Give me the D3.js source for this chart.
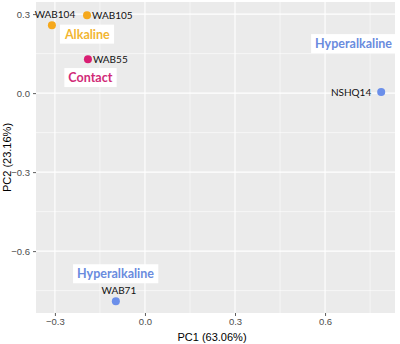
<!DOCTYPE html>
<html><head><meta charset="utf-8">
<script src="https://cdn.jsdelivr.net/npm/d3@7/dist/d3.min.js"></script>
<style>body{margin:0;background:#fff}svg{display:block}</style>
</head><body>
<script>
// Data
const samples = ["WAB104", "WAB105", "WAB55", "NSHQ14", "WAB71"];
const pc1 = [-0.31, -0.193, -0.19, 0.787, -0.097];
const pc2 = [0.258, 0.296, 0.129, 0.004, -0.79];
const groups = ["Alkaline", "Alkaline", "Contact", "Hyperalkaline", "Hyperalkaline"];
// sample label anchor side
const labelSide = ["above", "right", "right", "left", "above"];
// group annotation labels (data coordinates)
const annText = ["Alkaline", "Contact", "Hyperalkaline", "Hyperalkaline"];
const annX = [-0.192, -0.182, 0.695, -0.098];
const annY = [0.224, 0.059, 0.188, -0.686];
const xTicks = [-0.3, 0.0, 0.3, 0.6];
const yTicks = [0.3, 0.0, -0.3, -0.6];
const groupNames = ["Alkaline", "Contact", "Hyperalkaline"];
const pointColors = ["#F5A81C", "#D91E73", "#6B8FEA"];
const textColors = ["#F2B531", "#D12A78", "#6A8BDE"];

const W = 400, H = 344;
const panel = {left: 36, right: 395, top: 2, bottom: 313};
const svg = d3.select("body").append("svg").attr("width", W).attr("height", H);

const x = d3.scaleLinear().domain([-0.363, 0.833]).range([panel.left, panel.right]);
const y = d3.scaleLinear().domain([-0.835, 0.346]).range([panel.bottom, panel.top]);
const pcol = d3.scaleOrdinal().domain(groupNames).range(pointColors);
const tcol = d3.scaleOrdinal().domain(groupNames).range(textColors);

svg.append("rect").attr("x", panel.left).attr("y", panel.top)
  .attr("width", panel.right - panel.left).attr("height", panel.bottom - panel.top)
  .attr("fill", "#EBEBEB");

// minor grid
const xMinor = xTicks.slice(0, -1).map((v, i) => (v + xTicks[i + 1]) / 2).concat([0.75]);
const yMinor = yTicks.slice(0, -1).map((v, i) => (v + yTicks[i + 1]) / 2).concat([-0.75]);
const g = svg.append("g");
g.selectAll(".xm").data(xMinor).join("line")
  .attr("x1", d => x(d)).attr("x2", d => x(d)).attr("y1", panel.top).attr("y2", panel.bottom)
  .attr("stroke", "#fff").attr("stroke-width", 0.55);
g.selectAll(".ym").data(yMinor).join("line")
  .attr("y1", d => y(d)).attr("y2", d => y(d)).attr("x1", panel.left).attr("x2", panel.right)
  .attr("stroke", "#fff").attr("stroke-width", 0.55);
g.selectAll(".xM").data(xTicks).join("line")
  .attr("x1", d => x(d)).attr("x2", d => x(d)).attr("y1", panel.top).attr("y2", panel.bottom)
  .attr("stroke", "#fff").attr("stroke-width", 1.1);
g.selectAll(".yM").data(yTicks).join("line")
  .attr("y1", d => y(d)).attr("y2", d => y(d)).attr("x1", panel.left).attr("x2", panel.right)
  .attr("stroke", "#fff").attr("stroke-width", 1.1);

// axes
const fmt = d3.format(".1f");
const xAxis = svg.append("g").attr("transform", `translate(0,${panel.bottom})`)
  .call(d3.axisBottom(x).tickValues(xTicks).tickFormat(fmt).tickSize(3).tickPadding(2));
const yAxis = svg.append("g").attr("transform", `translate(${panel.left},0)`)
  .call(d3.axisLeft(y).tickValues(yTicks).tickFormat(fmt).tickSize(3).tickPadding(3));
[xAxis, yAxis].forEach(a => {
  a.select(".domain").remove();
  a.selectAll(".tick line").attr("stroke", "#333").attr("stroke-width", 0.8);
  a.selectAll(".tick text").attr("fill", "#4D4D4D").attr("font-size", 9.5)
    .attr("font-family", "Liberation Sans, Arial, sans-serif");
});

svg.append("text").attr("x", 212).attr("y", 341)
  .attr("text-anchor", "middle").attr("font-family", "Liberation Sans, Arial, sans-serif")
  .attr("font-size", 11).attr("fill", "#000").text("PC1 (63.06%)");
svg.append("text").attr("transform", `translate(11,${(panel.top + panel.bottom) / 2}) rotate(-90)`)
  .attr("text-anchor", "middle").attr("font-family", "Liberation Sans, Arial, sans-serif")
  .attr("font-size", 11).attr("fill", "#000").text("PC2 (23.16%)");

// points
const pts = samples.map((s, i) => ({s, x: pc1[i], y: pc2[i], g: groups[i], side: labelSide[i]}));
svg.selectAll(".pt").data(pts).join("circle")
  .attr("cx", d => x(d.x)).attr("cy", d => y(d.y)).attr("r", 4)
  .attr("fill", d => pcol(d.g));

// sample labels
svg.selectAll(".sl").data(pts).join("text")
  .attr("x", d => x(d.x) + (d.side === "right" ? 5 : d.side === "left" ? -10 : 3))
  .attr("y", d => y(d.y) + (d.side === "above" ? -7 : 3.5))
  .attr("text-anchor", d => d.side === "right" ? "start" : d.side === "left" ? "end" : "middle")
  .attr("font-family", "Lato, sans-serif").attr("font-size", 10).attr("fill", "#111")
  .text(d => d.s);

// annotations
const ann = annText.map((t, i) => ({t, x: annX[i], y: annY[i]}));
const ag = svg.selectAll(".ann").data(ann).join("g")
  .attr("transform", d => `translate(${x(d.x)},${y(d.y)})`);
ag.append("text").attr("text-anchor", "middle").attr("dy", "0.36em")
  .attr("font-family", "Lato, sans-serif").attr("font-weight", "bold").attr("font-size", 12.5)
  .attr("fill", d => tcol(d.t)).text(d => d.t);
ag.each(function() {
  const gg = d3.select(this);
  const bb = gg.select("text").node().getBBox();
  gg.insert("rect", "text").attr("x", bb.x - 4).attr("y", bb.y - 2)
    .attr("width", bb.width + 8).attr("height", bb.height + 4).attr("fill", "#fff");
});
</script>
</body></html>
